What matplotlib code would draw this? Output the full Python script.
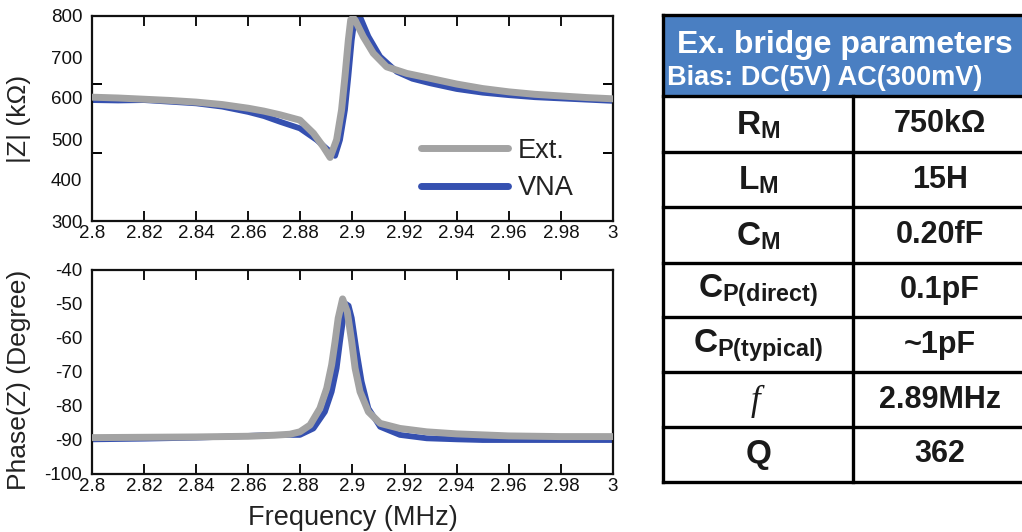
import matplotlib
matplotlib.use('Agg')
import matplotlib.pyplot as plt
from matplotlib.patches import Rectangle

plt.rcParams['font.family'] = ['Liberation Sans', 'DejaVu Sans']
plt.rcParams['mathtext.fontset'] = 'custom'
plt.rcParams['mathtext.rm'] = 'Liberation Sans'
plt.rcParams['mathtext.bf'] = 'Liberation Sans:bold'
plt.rcParams['mathtext.it'] = 'Liberation Serif:italic'

# ---------------- data ----------------
# |Z| (kOhm) vs frequency (MHz)
f_z_ext = [2.800, 2.810, 2.820, 2.830, 2.840, 2.850, 2.860, 2.866, 2.8722, 2.8798,
           2.8850, 2.8888, 2.8914, 2.8939, 2.8958, 2.8971, 2.8984, 2.8993, 2.9002,
           2.9010, 2.9041, 2.9080, 2.9131, 2.9208, 2.9298, 2.940, 2.950, 2.960,
           2.970, 2.980, 2.990, 3.000]
z_ext = [602, 600, 597, 594, 590, 584, 575, 568, 559, 546,
         514, 481, 455, 498, 571, 652, 741, 790, 796,
         790, 750, 709, 676, 660, 648, 634, 623, 615,
         609, 605, 601, 598]

f_z_vna = [2.800, 2.810, 2.820, 2.830, 2.840, 2.850, 2.860, 2.866, 2.8722, 2.8798,
           2.8862, 2.8907, 2.8933, 2.8952, 2.8971, 2.8984, 2.8997, 2.9010, 2.9029,
           2.9061, 2.9106, 2.9170, 2.9230, 2.9298, 2.940, 2.950, 2.960, 2.970,
           2.980, 2.990, 3.000]
z_vna = [595, 594, 595, 591, 587, 579, 566, 556, 542, 526,
         498, 473, 459, 498, 571, 652, 741, 802, 798,
         750, 701, 664, 647, 636, 622, 613, 607, 602,
         599, 596, 593]

# Phase(Z) (degree) vs frequency (MHz)
f_p_ext = [2.800, 2.820, 2.840, 2.860, 2.870, 2.8760, 2.8798, 2.8837, 2.8875, 2.8901,
           2.8920, 2.8933, 2.8945, 2.8962, 2.8980, 2.8997, 2.9010, 2.9029, 2.9061,
           2.9106, 2.9182, 2.9285, 2.940, 2.950, 2.960, 2.980, 3.000]
p_ext = [-89.3, -89.2, -89.1, -88.9, -88.6, -88.3, -87.6, -85.6, -80.7, -74.8,
         -67.9, -61.1, -54.2, -48.5, -52.3, -61.1, -68.9, -75.8, -81.7,
         -85.1, -86.6, -87.6, -88.2, -88.5, -88.8, -89.0, -89.0]

f_p_vna = [2.800, 2.820, 2.840, 2.860, 2.870, 2.8760, 2.8798, 2.8850, 2.8894, 2.8920,
           2.8939, 2.8952, 2.8963, 2.8975, 2.8985, 2.8997, 2.9016, 2.9035, 2.9061,
           2.9106, 2.9182, 2.9285, 2.940, 2.950, 2.960, 2.980, 3.000]
p_vna = [-89.8, -89.6, -89.3, -88.8, -88.5, -88.5, -88.5, -86.6, -81.7, -75.8,
         -68.9, -61.1, -55.0, -50.0, -50.5, -54.1, -64.0, -72.8, -80.7,
         -86.1, -88.5, -89.5, -89.8, -90.0, -90.0, -90.0, -90.0]

x_ticks = [2.80, 2.82, 2.84, 2.86, 2.88, 2.90, 2.92, 2.94, 2.96, 2.98, 3.00]
x_ticklabels = ['2.8', '2.82', '2.84', '2.86', '2.88', '2.9', '2.92', '2.94', '2.96', '2.98', '3']
z_ticks = [300, 400, 500, 600, 700, 800]
p_ticks = [-100, -90, -80, -70, -60, -50, -40]

series_labels = ['Ext.', 'VNA']

table_title = 'Ex. bridge parameters'
table_subtitle = 'Bias: DC(5V) AC(300mV)'
param_names = [r'$\mathbf{R}_{\mathbf{M}}$', r'$\mathbf{L}_{\mathbf{M}}$', r'$\mathbf{C}_{\mathbf{M}}$',
               r'$\mathbf{C}_{\mathbf{P(direct)}}$', r'$\mathbf{C}_{\mathbf{P(typical)}}$',
               r'$\mathit{f}$', r'$\mathbf{Q}$']
param_values = ['750kΩ', '15H', '0.20fF', '0.1pF', '~1pF', '2.89MHz', '362']

# ---------------- style ----------------
GRAY = '#a3a3a3'
BLUE = '#3550b0'
HEADER = '#4a7fc2'

W, H = 1022, 532
fig = plt.figure(figsize=(W / 100, H / 100), dpi=100)

ax1 = fig.add_axes([92 / W, 1 - 221 / H, 521 / W, 205 / H])
ax2 = fig.add_axes([92 / W, 1 - 474 / H, 521 / W, 204 / H])

kw = dict(solid_capstyle='round', solid_joinstyle='round')
ax1.plot(f_z_vna, z_vna, color=BLUE, lw=4.2, label=series_labels[1], zorder=2, **kw)
ax1.plot(f_z_ext, z_ext, color=GRAY, lw=5.0, label=series_labels[0], zorder=3, **kw)
ax2.plot(f_p_vna, p_vna, color=BLUE, lw=4.2, zorder=2, **kw)
ax2.plot(f_p_ext, p_ext, color=GRAY, lw=5.0, zorder=3, **kw)

for ax, yt, ylim in ((ax1, z_ticks, (300, 800)), (ax2, p_ticks, (-100, -40))):
    ax.set_xlim(2.8, 3.0)
    ax.set_ylim(*ylim)
    ax.set_xticks(x_ticks)
    ax.set_xticklabels(x_ticklabels)
    ax.set_yticks(yt)
    ax.set_yticklabels([str(v) for v in yt])
    lo, hi = ylim
    ax.set_yticks([lo + (hi - lo) / 3, lo + 2 * (hi - lo) / 3], minor=True)
    ax.tick_params(axis='x', which='major', direction='in', top=True, bottom=True,
                   length=7, width=1.4, labelsize=13.5, pad=3, colors='#111111')
    ax.tick_params(axis='y', which='major', length=0, labelsize=13.5, pad=7, colors='#111111')
    ax.tick_params(axis='y', which='minor', direction='in', left=True, right=True,
                   length=7, width=1.4)
    for s in ax.spines.values():
        s.set_linewidth(1.6)
        s.set_color('#111111')

ax1.set_ylabel('|Z| (kΩ)', fontsize=19, color='#222222')
ax1.yaxis.set_label_coords(-0.118, 0.5)
ax2.set_ylabel('Phase(Z) (Degree)', fontsize=19, color='#222222')
ax2.yaxis.set_label_coords(-0.118, 0.46)
ax2.set_xlabel('Frequency (MHz)', fontsize=19.5, color='#222222')
ax2.xaxis.set_label_coords(0.5, -0.15)

handles, labels = ax1.get_legend_handles_labels()
leg = ax1.legend(handles[::-1], labels[::-1], loc='upper left', bbox_to_anchor=(0.632, 0.405),
                 frameon=False, fontsize=19.5, handlelength=3.2, handletextpad=0.35,
                 labelspacing=0.42, borderpad=0, borderaxespad=0)
for lh in leg.get_lines():
    lh.set_linewidth(5.0)
for t in leg.get_texts():
    t.set_color('#222222')

# ---------------- table ----------------
tab = fig.add_axes([0, 0, 1, 1], facecolor='none')
tab.set_xlim(0, W)
tab.set_ylim(H, 0)
tab.axis('off')

x_left, x_mid, x_right = 663, 853, 1040
y_top, y_head = 15, 96
row_edges = [96, 152, 207, 263, 317, 372, 427, 482]

tab.add_patch(Rectangle((x_left, y_top), x_right - x_left, y_head - y_top,
                        facecolor=HEADER, edgecolor='none', zorder=1))
lw_tab = 2.4
tab.plot([x_left, x_right], [y_top, y_top], color='black', lw=lw_tab, zorder=3)
tab.plot([x_left, x_left], [y_top, row_edges[-1]], color='black', lw=lw_tab, zorder=3,
         solid_capstyle='projecting')
for y in row_edges:
    tab.plot([x_left, x_right], [y, y], color='black', lw=lw_tab, zorder=3)
tab.plot([x_mid, x_mid], [row_edges[0], row_edges[-1]], color='black', lw=lw_tab, zorder=3)

tab.text(677, 45, table_title, color='white', fontsize=23, fontweight='bold',
         ha='left', va='center', zorder=4)
tab.text(667, 78, table_subtitle, color='white', fontsize=19.5, fontweight='bold',
         ha='left', va='center', zorder=4)

for i, (nm, val) in enumerate(zip(param_names, param_values)):
    yc = (row_edges[i] + row_edges[i + 1]) / 2
    name_fs = 24 if i != 5 else 25
    tab.text((x_left + x_mid) / 2, yc + 1, nm, fontsize=name_fs, ha='center', va='center',
             color='#1a1a1a', zorder=4)
    tab.text(940, yc, val, fontsize=22, fontweight='bold', ha='center', va='center',
             color='#1a1a1a', zorder=4)

fig.savefig('out.png', dpi=100)
